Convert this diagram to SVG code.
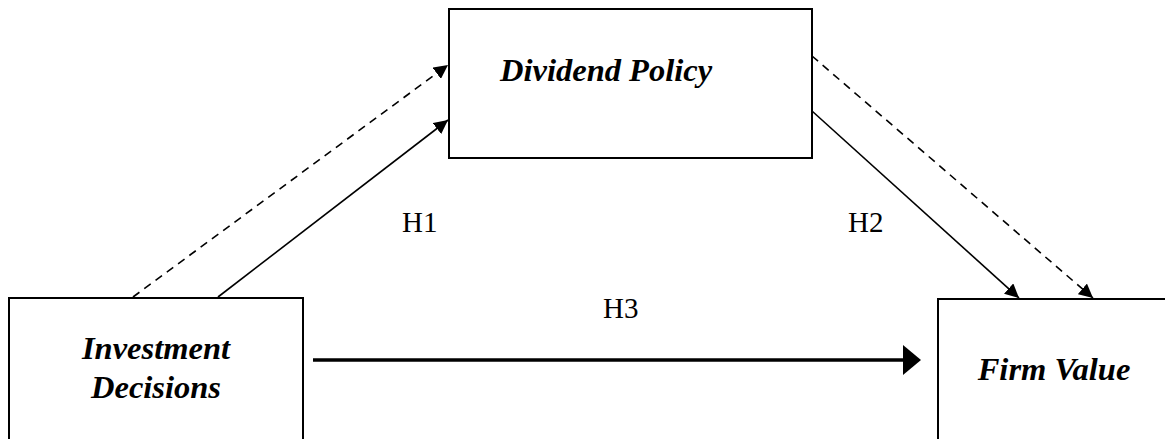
<svg xmlns="http://www.w3.org/2000/svg" width="1165" height="439" viewBox="0 0 1165 439">
<style>
.box{fill:#fff;stroke:#000;stroke-width:2}
.lbl{font-family:"Liberation Serif","Times New Roman",serif;font-weight:bold;font-style:italic;font-size:32.5px;fill:#000}
.h{font-family:"Liberation Serif","Times New Roman",serif;font-size:29px;fill:#000}
.c{stroke:#000;stroke-width:1.6;fill:none}
.d{stroke-dasharray:8,6}
</style>
<defs>
<marker id="ah" viewBox="0 0 10 10" refX="10" refY="5" markerWidth="14" markerHeight="14" markerUnits="userSpaceOnUse" orient="auto">
<path d="M0,0 L10,5 L0,10 z" fill="#000"/>
</marker>
</defs>
<rect width="1165" height="439" fill="#fff"/>
<g id="connectors">
<line class="c d" x1="133" y1="297" x2="448" y2="65" marker-end="url(#ah)"/>
<line class="c" x1="218" y1="297" x2="448" y2="120" marker-end="url(#ah)"/>
<line class="c d" x1="812" y1="56" x2="1093" y2="298" marker-end="url(#ah)"/>
<line class="c" x1="812" y1="111" x2="1019" y2="298" marker-end="url(#ah)"/>
<line x1="313" y1="360" x2="905" y2="360" stroke="#000" stroke-width="3.5"/>
<path d="M903,345 L921,360 L903,375 z" fill="#000"/>
<text class="h" x="402" y="232">H1</text>
<text class="h" x="848" y="232">H2</text>
<text class="h" x="603" y="318">H3</text>
</g>
<g id="dividend">
<rect class="box" x="449" y="9" width="363" height="149"/>
<text class="lbl" x="500" y="81">Dividend Policy</text>
</g>
<g id="investment">
<rect class="box" x="9" y="298" width="294" height="160"/>
<text class="lbl" x="156" y="359" text-anchor="middle">Investment</text>
<text class="lbl" x="156" y="398" text-anchor="middle">Decisions</text>
</g>
<g id="firmvalue">
<rect class="box" x="938" y="299" width="240" height="160"/>
<text class="lbl" x="1054" y="380" text-anchor="middle">Firm Value</text>
</g>
</svg>
